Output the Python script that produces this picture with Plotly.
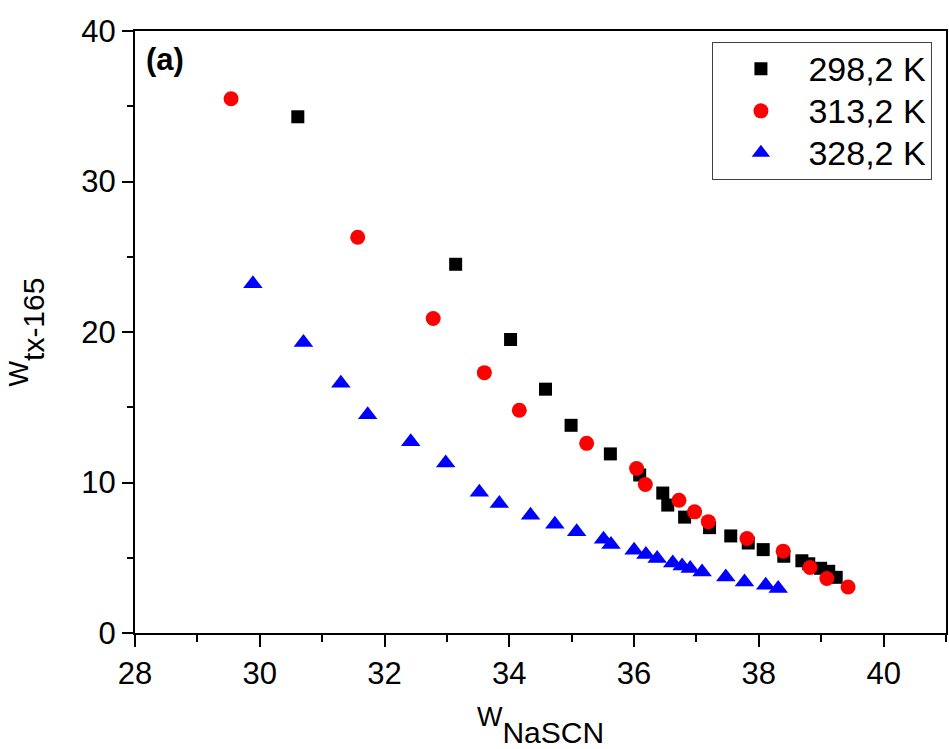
import plotly.graph_objects as go

# 298,2 K
x_298 = [30.61, 33.14, 34.02, 34.58, 34.99, 35.62, 36.09, 36.46, 36.54, 36.81,
         37.21, 37.55, 37.83, 38.07, 38.40, 38.69, 38.80, 38.99, 39.12, 39.24]
y_298 = [34.3, 24.5, 19.5, 16.2, 13.8, 11.9, 10.5, 9.3, 8.5, 7.7,
         7.0, 6.45, 5.98, 5.54, 5.1, 4.8, 4.6, 4.3, 4.1, 3.7]

# 313,2 K
x_313 = [29.54, 31.57, 32.78, 33.60, 34.16, 35.24, 36.04, 36.18, 36.72, 36.97,
         37.19, 37.81, 38.39, 38.82, 39.09, 39.43]
y_313 = [35.5, 26.3, 20.9, 17.3, 14.8, 12.6, 10.93, 9.87, 8.82, 8.05,
         7.4, 6.28, 5.44, 4.35, 3.62, 3.06]

# 328,2 K
x_328 = [29.89, 30.70, 31.30, 31.73, 32.42, 32.98, 33.52, 33.84, 34.34, 34.73,
         35.08, 35.51, 35.63, 36.00, 36.19, 36.37, 36.62, 36.77, 36.90, 37.09,
         37.47, 37.77, 38.11, 38.31]
y_328 = [23.2, 19.3, 16.6, 14.5, 12.7, 11.3, 9.35, 8.6, 7.82, 7.23,
         6.72, 6.23, 5.88, 5.5, 5.21, 4.95, 4.65, 4.45, 4.28, 4.06,
         3.72, 3.39, 3.17, 2.95]

series_names = ["298,2 K", "313,2 K", "328,2 K"]

FONT = "Arial, Liberation Sans, sans-serif"


def legend_label(s):
    return "<span style='font-size:34px'>" + s + "</span>"


fig = go.Figure()
fig.add_trace(go.Scatter(x=x_298, y=y_298, mode="markers", name=legend_label(series_names[0]),
                         marker=dict(symbol="square", size=13, color="#000000")))
fig.add_trace(go.Scatter(x=x_313, y=y_313, mode="markers", name=legend_label(series_names[1]),
                         marker=dict(symbol="circle", size=15, color="#FF0000")))
fig.add_trace(go.Scatter(x=x_328, y=y_328, mode="markers", name=legend_label(series_names[2]),
                         marker=dict(symbol="triangle-up", size=17, color="#0000FF")))

axis_common = dict(
    showline=True, linecolor="black", linewidth=2, mirror=True,
    ticks="outside", tickcolor="black", tickwidth=2,
    showgrid=False, zeroline=False,
    tickfont=dict(family=FONT, size=31, color="black"),
)

fig.update_xaxes(
    range=[28, 41], tickmode="array", tickvals=[28, 30, 32, 34, 36, 38, 40],
    ticklen=12,
    minor=dict(tickmode="array", tickvals=[29, 31, 33, 35, 37, 39, 41],
               ticks="outside", ticklen=7, tickwidth=2, tickcolor="black"),
    title=dict(text="<sup><span style='font-size:27px'>W</span></sup>"
                    "<span style='font-size:30px'>NaSCN</span>",
               font=dict(family=FONT, size=40, color="black"), standoff=26),
    **axis_common,
)
fig.update_yaxes(
    range=[0, 40], tickmode="array", tickvals=[0, 10, 20, 30, 40],
    ticklen=11,
    minor=dict(tickmode="array", tickvals=[5, 15, 25, 35],
               ticks="outside", ticklen=6, tickwidth=2, tickcolor="black"),
    title=dict(text="<sup><span style='font-size:27px'>W</span></sup>"
                    "<span style='font-size:30px'>tx-165</span>",
               font=dict(family=FONT, size=40, color="black"), standoff=24),
    **axis_common,
)

fig.add_annotation(text="<b>(a)</b>", xref="paper", yref="paper",
                   x=0.011, y=0.985, xanchor="left", yanchor="top", showarrow=False,
                   font=dict(family=FONT, size=31, color="black"))

fig.update_layout(
    width=949, height=749,
    margin=dict(l=135, r=1, t=31, b=116),
    plot_bgcolor="white", paper_bgcolor="white",
    showlegend=True,
    legend=dict(x=0.712, y=0.982, xanchor="left", yanchor="top",
                xref="paper", yref="paper",
                bordercolor="#404040", borderwidth=1, bgcolor="white",
                font=dict(family=FONT, size=30, color="black"),
                itemwidth=85, tracegroupgap=0),
)

fig.write_html("out.html")
